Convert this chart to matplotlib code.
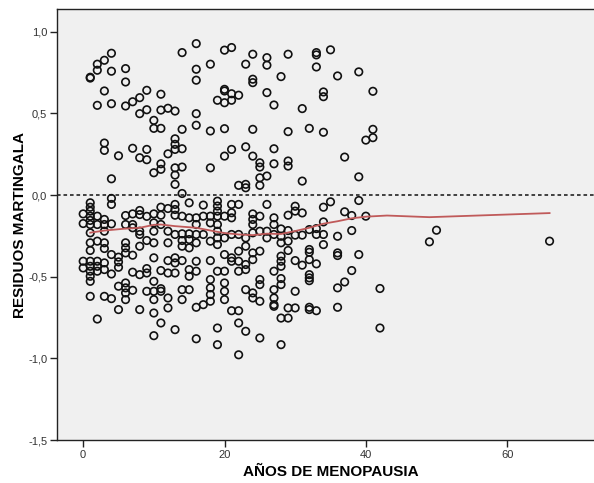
import matplotlib
matplotlib.use("Agg")
import matplotlib.pyplot as plt
from matplotlib.ticker import FuncFormatter

# Martingale residuals of patients with an event (positive residuals)
event_years = [
    1, 1, 2, 2, 3, 4, 4, 6, 6, 3, 2, 4, 6, 7, 8, 9, 11, 8, 9, 11, 12, 13, 10, 10, 11,
    3, 3, 5, 7, 8, 9, 9, 11, 11, 10, 12, 13, 13, 13, 13, 13, 13, 4, 14,
    16, 14, 20, 21, 24, 26, 26, 18, 23, 16, 16, 24, 24, 28, 20, 20, 21, 22, 19, 20, 21,
    26, 27, 16, 14, 16, 18, 20, 24, 14, 21, 20, 23, 24, 27, 25, 25, 26, 25, 27, 14, 18,
    22, 23, 23, 25,
    29, 33, 33, 35, 33, 36, 39, 34, 34, 41, 31, 29, 32, 34, 41, 41, 40, 37, 29, 29, 39, 31,
]
event_resid = [
    0.717, 0.722, 0.802, 0.765, 0.826, 0.869, 0.759, 0.775, 0.693, 0.638, 0.550, 0.560,
    0.546, 0.572, 0.597, 0.642, 0.618, 0.499, 0.523, 0.521, 0.532, 0.515, 0.458, 0.409, 0.409,
    0.319, 0.274, 0.241, 0.287, 0.229, 0.280, 0.217, 0.192, 0.158, 0.137, 0.253, 0.345,
    0.311, 0.280, 0.167, 0.123, 0.066, 0.100, 0.010,
    0.928, 0.873, 0.888, 0.904, 0.863, 0.842, 0.796, 0.802, 0.802, 0.771, 0.704, 0.710,
    0.689, 0.726, 0.648, 0.638, 0.621, 0.612, 0.581, 0.566, 0.581,
    0.628, 0.552, 0.499, 0.403, 0.428, 0.393, 0.407, 0.403, 0.284, 0.280, 0.239, 0.296,
    0.239, 0.284, 0.198, 0.172, 0.117, 0.106, 0.192, 0.172, 0.167,
    0.060, 0.066, 0.045, 0.060,
    0.863, 0.873, 0.859, 0.890, 0.785, 0.730, 0.755, 0.632, 0.603, 0.636, 0.530, 0.389,
    0.409, 0.385, 0.403, 0.352, 0.337, 0.233, 0.209, 0.178, 0.112, 0.086,
]

# Martingale residuals of censored patients (negative residuals)
censored_years = [
    0, 0, 0, 0,
    1, 1, 1, 1, 1, 1, 1, 1, 1, 1, 1, 1, 1, 1, 1,
    2, 2, 2, 2, 2, 2, 2,
    3, 3, 3, 3, 3, 3, 3, 3,
    4, 4, 4, 4, 4, 4,
    5, 5, 5, 5, 5,
    6, 6, 6, 6, 6, 6, 6, 6, 6,
    7, 7, 7, 7, 7, 7,
    8, 8, 8, 8, 8, 8, 8,
    9, 9, 9, 9, 9,
    10, 10, 10, 10, 10, 10, 10, 10, 10, 10,
    11, 11, 11, 11, 11, 11, 11,
    12, 12, 12, 12, 12, 12, 12,
    13, 13, 13, 13, 13, 13, 13, 13,
    14, 14, 14, 14, 14, 14, 14,
    15, 15, 15, 15, 15, 15, 15, 15,
    16, 16, 16, 16, 16, 16, 16, 16,
    17, 17, 17, 17,
    18, 18, 18, 18, 18, 18, 18, 18,
    19, 19, 19, 19, 19, 19, 19, 19, 19, 19, 19,
    20, 20, 20, 20, 20, 20, 20,
    21, 21, 21, 21, 21, 21, 21,
    22, 22, 22, 22, 22, 22, 22, 22,
    23, 23, 23, 23, 23, 23,
    24, 24, 24, 24, 24, 24, 24, 24,
    25, 25, 25, 25, 25, 25, 25,
    26, 26, 26,
    27, 27, 27, 27, 27, 27, 27, 27,
    28, 28, 28, 28, 28, 28, 28, 28, 28, 28,
    29, 29, 29, 29, 29, 29,
    30, 30, 30, 30, 30, 30,
    31, 31, 31,
    32, 32, 32, 32, 32, 32, 32, 32, 32,
    33, 33, 33, 33,
    34, 34, 34, 34,
    35,
    36, 36, 36, 36, 36,
    37, 37,
    38, 38, 38,
    39, 39,
    40,
    42, 42,
    49, 50, 66,
]
censored_resid = [
    -0.115, -0.174, -0.405, -0.446,
    -0.047, -0.074, -0.098, -0.129, -0.155, -0.180, -0.231, -0.292, -0.339, -0.405,
    -0.436, -0.466, -0.497, -0.528, -0.620,
    -0.129, -0.180, -0.282, -0.405, -0.436, -0.466, -0.759,
    -0.149, -0.180, -0.221, -0.292, -0.327, -0.415, -0.456, -0.620,
    -0.020, -0.057, -0.176, -0.364, -0.483, -0.634,
    -0.380, -0.409, -0.442, -0.558, -0.701,
    -0.125, -0.180, -0.292, -0.323, -0.354, -0.538, -0.568, -0.599, -0.640,
    -0.115, -0.180, -0.200, -0.368, -0.472, -0.583,
    -0.094, -0.119, -0.221, -0.241, -0.313, -0.487, -0.701,
    -0.130, -0.278, -0.450, -0.477, -0.589,
    -0.115, -0.170, -0.221, -0.292, -0.384, -0.528, -0.589, -0.640, -0.722, -0.861,
    -0.074, -0.123, -0.180, -0.462, -0.573, -0.589, -0.783,
    -0.082, -0.221, -0.292, -0.401, -0.477, -0.630, -0.691,
    -0.057, -0.088, -0.123, -0.241, -0.384, -0.415, -0.477, -0.824,
    -0.129, -0.237, -0.278, -0.313, -0.401, -0.579, -0.640,
    -0.047, -0.139, -0.237, -0.272, -0.323, -0.456, -0.497, -0.579,
    -0.139, -0.180, -0.241, -0.292, -0.405, -0.466, -0.687, -0.880,
    -0.061, -0.129, -0.241, -0.671,
    -0.129, -0.170, -0.282, -0.401, -0.517, -0.568, -0.609, -0.650,
    -0.037, -0.067, -0.098, -0.129, -0.180, -0.221, -0.262, -0.303, -0.466, -0.814, -0.916,
    -0.129, -0.262, -0.364, -0.466, -0.538, -0.589, -0.640,
    -0.057, -0.108, -0.139, -0.241, -0.384, -0.405, -0.708,
    -0.057, -0.241, -0.343, -0.405, -0.466, -0.708, -0.783, -0.978,
    -0.262, -0.313, -0.425, -0.456, -0.579, -0.834,
    -0.115, -0.149, -0.180, -0.231, -0.354, -0.395, -0.599, -0.630,
    -0.129, -0.221, -0.343, -0.517, -0.548, -0.650, -0.875,
    -0.057, -0.221, -0.262,
    -0.139, -0.180, -0.241, -0.466, -0.579, -0.630, -0.671, -0.681,
    -0.207, -0.252, -0.292, -0.374, -0.405, -0.436, -0.511, -0.548, -0.753, -0.916,
    -0.123, -0.217, -0.282, -0.339, -0.691, -0.753,
    -0.068, -0.098, -0.245, -0.401, -0.589, -0.691,
    -0.109, -0.245, -0.429,
    -0.211, -0.333, -0.350, -0.395, -0.487, -0.507, -0.524, -0.687, -0.701,
    -0.205, -0.241, -0.421, -0.708,
    -0.074, -0.164, -0.241, -0.303,
    -0.041,
    -0.252, -0.354, -0.370, -0.568, -0.687,
    -0.102, -0.532,
    -0.125, -0.217, -0.462,
    -0.033, -0.364,
    -0.129,
    -0.572, -0.814,
    -0.286, -0.215, -0.282,
]

# Smoothed (loess) trend of the residuals
fit_years = [1, 3, 6, 8, 10, 11, 13, 16, 19, 20, 22, 24, 26, 28, 30, 32, 34, 36, 38, 40, 43, 49, 66]
fit_resid = [-0.230, -0.217, -0.205, -0.200, -0.182, -0.180, -0.190, -0.200, -0.225, -0.232,
             -0.241, -0.245, -0.236, -0.238, -0.220, -0.200, -0.175, -0.160, -0.142, -0.132,
             -0.125, -0.135, -0.110]

x_ticks = [0, 20, 40, 60]
y_ticks = [-1.5, -1.0, -0.5, 0.0, 0.5, 1.0]

plt.rcParams["font.family"] = ["Liberation Sans", "DejaVu Sans"]

fig = plt.figure(figsize=(5.94, 4.83), dpi=100)
ax = fig.add_axes([0.096, 0.089, 0.922, 0.892])
ax.set_facecolor("#f0f0f0")

ax.axhline(0.0, color="#333333", lw=1.3, ls=(0, (2.0, 1.6)), zorder=1)

ax.scatter(event_years + censored_years, event_resid + censored_resid,
           s=29, facecolors="none", edgecolors="#111111", linewidths=1.2, zorder=3)

ax.plot(fit_years, fit_resid, color="#c05a5a", lw=1.3, zorder=4)

ax.set_xlim(-3.7, 73.8)
ax.set_ylim(-1.5, 1.139)
ax.set_xticks(x_ticks)
ax.set_yticks(y_ticks)
ax.yaxis.set_major_formatter(FuncFormatter(lambda v, p: f"{v:.1f}".replace(".", ",")))
ax.xaxis.set_major_formatter(FuncFormatter(lambda v, p: f"{int(v)}"))

for side in ("left", "bottom", "top"):
    ax.spines[side].set_color("#222222")
    ax.spines[side].set_linewidth(1.0)
ax.spines["right"].set_visible(False)

ax.tick_params(axis="both", direction="out", length=5, width=1.0, color="#222222",
               labelsize=8, labelcolor="#333333", pad=2)

ax.set_xlabel("AÑOS DE MENOPAUSIA", fontsize=11, fontweight="bold", labelpad=4)
ax.set_ylabel("RESIDUOS MARTINGALA", fontsize=11, fontweight="bold", labelpad=1)

fig.savefig("out.png", dpi=100)
